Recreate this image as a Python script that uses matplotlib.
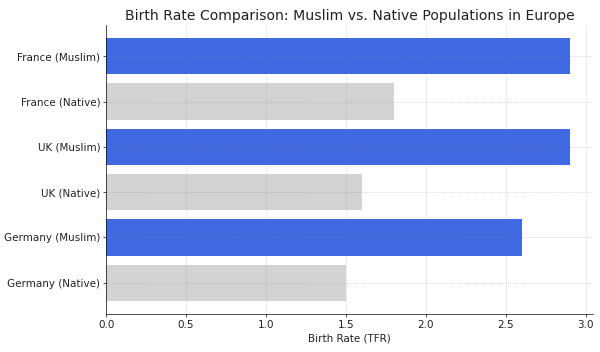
import matplotlib.pyplot as plt

# data
groups = ['France (Muslim)', 'France (Native)', 'UK (Muslim)', 'UK (Native)',
          'Germany (Muslim)', 'Germany (Native)']
birth_rates = [2.9, 1.8, 2.9, 1.6, 2.6, 1.5]
bar_colors = ['royalblue', 'lightgray', 'royalblue', 'lightgray', 'royalblue', 'lightgray']

fig, ax = plt.subplots(figsize=(10, 5.8667), dpi=60)
fig.subplots_adjust(left=0.177, right=0.988, top=0.929, bottom=0.108)

ax.barh(groups, birth_rates, color=bar_colors)
ax.invert_yaxis()

ax.set_title('Birth Rate Comparison: Muslim vs. Native Populations in Europe',
             fontsize=16.8, color='#222222')
ax.set_xlabel('Birth Rate (TFR)', fontsize=12.5, color='#222222')
ax.tick_params(labelsize=12.5, labelcolor='#222222')
ax.grid(True, linestyle=':', color='gray', alpha=0.5, linewidth=0.9)
ax.spines['top'].set_visible(False)
ax.spines['right'].set_visible(False)

fig.savefig('out.png', dpi=60)
